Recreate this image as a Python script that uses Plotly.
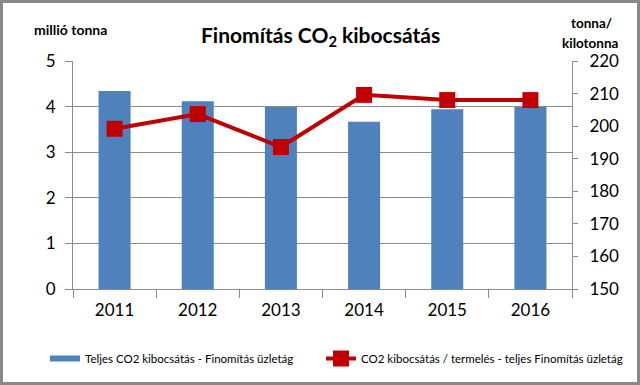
import plotly.graph_objects as go

years = ["2011", "2012", "2013", "2014", "2015", "2016"]
total_co2 = [4.34, 4.12, 3.99, 3.67, 3.94, 3.99]
co2_per_prod = [199.2, 203.7, 193.6, 209.6, 208.0, 208.0]

bar_name = "Teljes CO2 kibocsátás - Finomítás üzletág"
line_name = "CO2 kibocsátás / termelés - teljes Finomítás üzletág"

FONT = "Lato"
GRID = "#8c8c8c"
BLUE = "#4f81bd"
RED = "#c00000"

fig = go.Figure()
fig.add_trace(go.Bar(x=years, y=total_co2, name=bar_name, marker_color=BLUE,
                     marker_line_width=0, yaxis="y", showlegend=False))
# legend key for the bar series (wide rectangle like the original)
fig.add_trace(go.Scatter(x=[None], y=[None], name=bar_name, mode="lines",
                         line=dict(color=BLUE, width=6), legend="legend"))
fig.add_trace(go.Scatter(x=years, y=co2_per_prod, name=line_name, yaxis="y2",
                         mode="lines+markers", legend="legend2",
                         line=dict(color=RED, width=4),
                         marker=dict(symbol="square", size=16, color=RED)))

L, R, T, B = 73, 68, 61, 96
W, H = 640, 385
pw, ph = W - L - R, H - T - B

def px(x):
    return (x - L) / pw

def py(y):
    return (H - B - y) / ph

leg_common = dict(orientation="h", yanchor="middle", xanchor="left",
                  y=py(358.5), font=dict(size=11.5, family=FONT),
                  itemwidth=30, bgcolor="rgba(0,0,0,0)")

fig.update_layout(
    width=W, height=H,
    margin=dict(l=L, r=R, t=T, b=B),
    paper_bgcolor="white", plot_bgcolor="white",
    font=dict(family=FONT, color="black"),
    bargap=0.615,
    showlegend=True,
    legend=dict(x=px(45), **leg_common),
    legend2=dict(x=px(321), **leg_common),
    xaxis=dict(type="category", showline=True, linecolor=GRID, ticks="outside",
               tickson="boundaries", ticklen=8, tickcolor=GRID,
               tickfont=dict(size=17), showgrid=False, ticklabelstandoff=6),
    yaxis=dict(range=[0, 5], dtick=1, showgrid=True, gridcolor=GRID, gridwidth=1,
               showline=True, linecolor=GRID, ticks="outside", ticklen=7,
               tickcolor=GRID, tickfont=dict(size=17), zeroline=False,
               ticklabelstandoff=6),
    yaxis2=dict(range=[150, 220], dtick=10, overlaying="y", side="right",
                showgrid=False, showline=True, linecolor=GRID, ticks="outside",
                ticklen=5, tickcolor=GRID, tickfont=dict(size=17), zeroline=False,
                ticklabelstandoff=8),
    annotations=[
        dict(text="<b>Finomítás CO<sub>2</sub> kibocsátás</b>", xref="paper", yref="paper",
             x=px(320), y=py(36), xanchor="center", yanchor="middle",
             showarrow=False, font=dict(size=21, family=FONT)),
        dict(text="<b>millió tonna</b>", xref="paper", yref="paper",
             x=px(32), y=py(30), xanchor="left", yanchor="middle",
             showarrow=False, font=dict(size=14, family=FONT)),
        dict(text="<b>tonna/</b>", xref="paper", yref="paper",
             x=px(591), y=py(23), xanchor="center", yanchor="middle",
             showarrow=False, font=dict(size=13.5, family=FONT)),
        dict(text="<b>kilotonna</b>", xref="paper", yref="paper",
             x=px(590), y=py(43), xanchor="center", yanchor="middle",
             showarrow=False, font=dict(size=13.5, family=FONT)),
    ],
)

post = ("document.body.style.margin='0';document.body.style.overflow='hidden';"
        "var fr=document.createElement('div');"
        "fr.style.cssText='position:fixed;left:0;top:0;width:640px;height:385px;"
        "box-sizing:border-box;border:3px solid #888888;pointer-events:none;z-index:9999;';"
        "document.body.appendChild(fr);")

fig.write_html("out.html", config={"displayModeBar": False}, post_script=post)
